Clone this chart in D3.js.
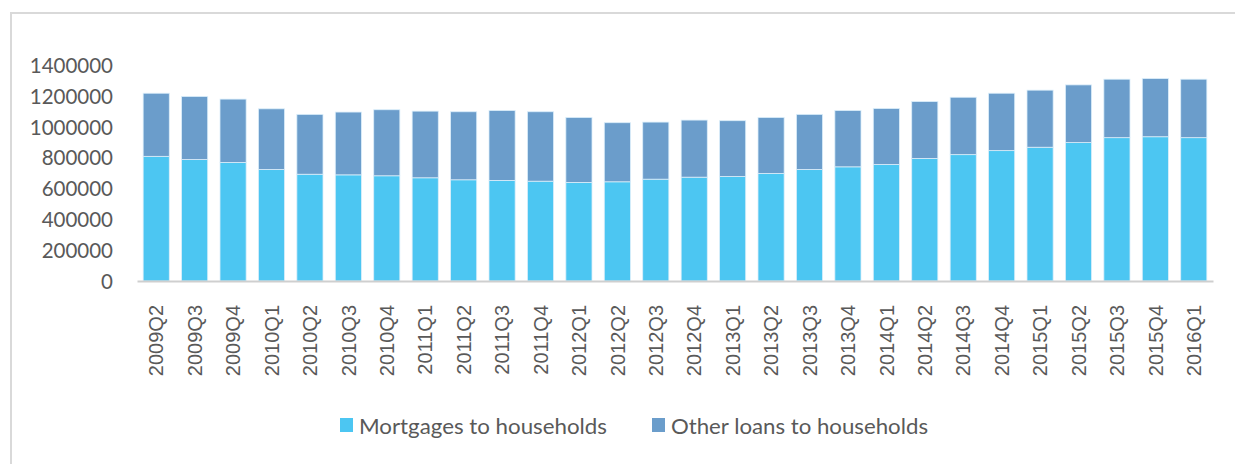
<!DOCTYPE html>
<html><head><meta charset="utf-8">
<script src="https://cdn.jsdelivr.net/npm/d3@7"></script>
<style>body{margin:0;background:#fff}svg{display:block}</style>
</head><body>
<svg id="c" width="1235" height="464"></svg>
<script>
const categories = ["2009Q2","2009Q3","2009Q4","2010Q1","2010Q2","2010Q3","2010Q4","2011Q1","2011Q2","2011Q3","2011Q4","2012Q1","2012Q2","2012Q3","2012Q4","2013Q1","2013Q2","2013Q3","2013Q4","2014Q1","2014Q2","2014Q3","2014Q4","2015Q1","2015Q2","2015Q3","2015Q4","2016Q1"];
const mortgages = [808000,787000,768000,723000,692000,688000,682000,669000,656000,652000,647000,639000,643000,660000,673000,677000,697000,723000,740000,755000,794000,819000,845000,867000,897000,929000,935000,929000];
const otherLoans = [409000,409000,411000,393000,388000,407000,428000,432000,441000,453000,450000,421000,383000,370000,370000,362000,363000,357000,365000,363000,369000,372000,372000,370000,374000,379000,377000,379000];
const yTicks = [0,200000,400000,600000,800000,1000000,1200000,1400000];
const seriesNames = ["Mortgages to households","Other loans to households"];
const colors = ["#4cc6f2","#6b9dcb"];

const svg = d3.select("#c");
// frame
svg.append("path").attr("d","M11,464 V13 H1235").attr("fill","none").attr("stroke","#d9d9d9").attr("stroke-width",2);

const x = d3.scaleBand().domain(categories).range([137,1213]).paddingInner(0.32).paddingOuter(0.16);
const y = d3.scaleLinear().domain([0,1400000]).range([281,65]);

const data = categories.map((c,i)=>({cat:c, mortgages:mortgages[i], other:otherLoans[i]}));
const stack = d3.stack().keys(["mortgages","other"])(data);

svg.append("g").selectAll("g").data(stack).join("g")
  .attr("fill",(d,i)=>colors[i])
  .selectAll("rect").data(d=>d).join("rect")
  .attr("x",d=>x(d.data.cat)).attr("width",x.bandwidth())
  .attr("y",d=>y(d[1])).attr("height",d=>y(d[0])-y(d[1]))
  .attr("stroke","#dbeefa").attr("stroke-width",0.8);

// y axis labels
const ya = svg.append("g").attr("transform","translate(113,0)")
  .call(d3.axisLeft(y).tickValues(yTicks).tickSize(0).tickPadding(0).tickFormat(d3.format("d")));
ya.select(".domain").remove();
ya.selectAll("text").attr("font-family","Lato, sans-serif").attr("font-size","20.5px").attr("fill","#595959").attr("dy","0.36em");

// x axis
const xa = svg.append("g").attr("transform","translate(0,281)")
  .call(d3.axisBottom(x).tickSize(0).tickPadding(0));
xa.select(".domain").attr("stroke","#cfcfcf").attr("stroke-width",2);
xa.selectAll("text").attr("font-family","'Liberation Sans', Arial, sans-serif").attr("font-size","20px").attr("fill","#595959")
  .attr("text-anchor","end").attr("transform","translate(0,24) rotate(-90)").attr("dy","0.36em").attr("y",0).attr("x",0);

// legend
const legX = [340,652];
const legW = [248,257];
const lg = svg.append("g");
seriesNames.forEach((n,i)=>{
  lg.append("rect").attr("x",legX[i]).attr("y",418).attr("width",13).attr("height",14).attr("fill",colors[i]);
  lg.append("text").attr("x",legX[i]+19).attr("y",434).text(n)
    .attr("textLength",legW[i]).attr("lengthAdjust","spacingAndGlyphs")
    .attr("font-family","Lato, sans-serif").attr("font-size","21px").attr("fill","#595959");
});
</script>
</body></html>
